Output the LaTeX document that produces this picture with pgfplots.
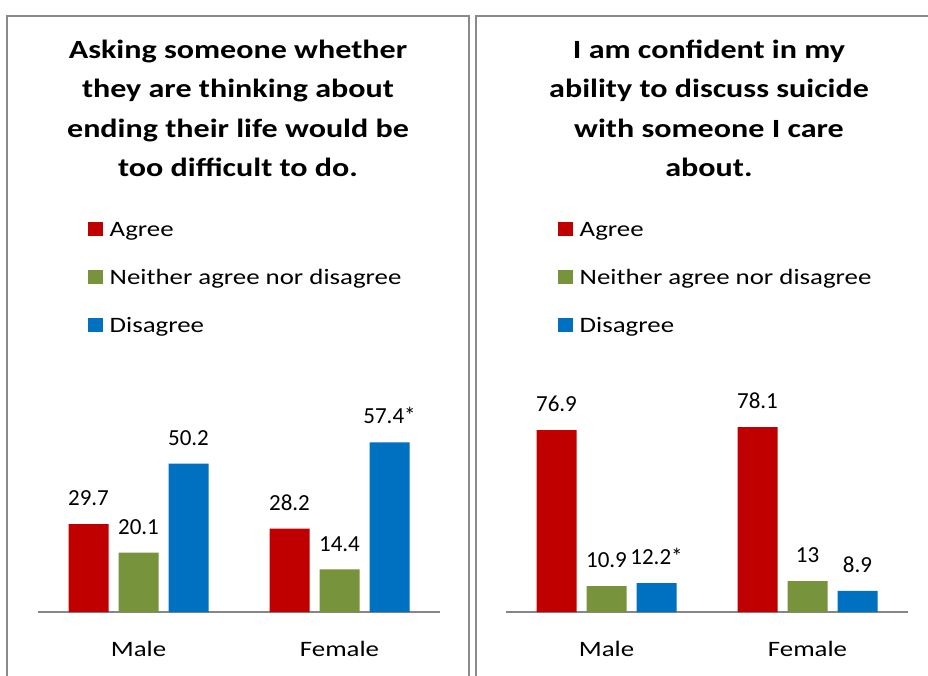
\documentclass[border=0pt]{standalone}
\usepackage{pgfplots}
\pgfplotsset{compat=1.18}
\usepackage{fontspec}
\setmainfont{Carlito}
\newfontfamily\wide{Carlito}[FakeStretch=1.22]
\definecolor{cred}{HTML}{C00000}
\definecolor{cgreen}{HTML}{77933C}
\definecolor{cblue}{HTML}{0070C0}
\definecolor{caxis}{HTML}{868686}
\definecolor{cborder}{HTML}{8A8A8A}
\pgfplotsset{
  panel/.style={
    scale only axis, width=402pt,
    xmin=-0.5, xmax=1.5, ymin=0,
    axis x line=bottom, axis y line=none,
    x axis line style={caxis, line width=1.5pt, -},
    xtick={0,1}, xticklabels={Male,Female},
    major tick length=0pt,
    xticklabel style={font=\wide\fontsize{22}{26}\selectfont, yshift=-26pt},
    ybar=10pt, bar width=40pt,
    nodes near coords, point meta=explicit symbolic,
    every node near coord/.append style={font=\fontsize{23}{27}\selectfont, black, yshift=14.7pt},
    clip=false,
    legend style={anchor=north west, draw=none, fill=none, inner sep=0pt,
      font=\wide\fontsize{22}{26}\selectfont, row sep=27pt, column sep=7pt,
      nodes={inner sep=0pt, text height=16pt, text depth=5pt}},
    legend cell align=left,
    legend image code/.code={\fill[##1] (0pt,-5.5pt) rectangle (14.5pt,8.5pt);},
  }
}
\begin{document}
\begin{tikzpicture}
\useasboundingbox (0pt,0pt) rectangle (928pt,-675pt);
\fill[white] (0pt,0pt) rectangle (928pt,-675pt);
\draw[cborder, line width=2pt] (7pt,-690pt) -- (7pt,-16pt) -- (469pt,-16pt) -- (469pt,-690pt);
\draw[cborder, line width=2pt] (476pt,-690pt) -- (476pt,-16pt) -- (945pt,-16pt);
\node[anchor=north, align=center, inner sep=0pt, font=\wide\bfseries\fontsize{26.3}{39.2}\selectfont] at (238pt,-40pt)
  {Asking someone whether\\they are thinking about\\ending their life would be\\too difficult to do.};
\node[anchor=north, align=center, inner sep=0pt, font=\wide\bfseries\fontsize{26.3}{39.2}\selectfont] at (709pt,-40pt)
  {I am confident in my\\ability to discuss suicide\\with someone I care\\about.};
\begin{axis}[panel, at={(38pt,-612pt)}, anchor=south west, height=207pt, ymax=70,
  legend style={at={(0.1244,1.8937)}}]
\addplot[fill=cred, draw=none] coordinates {(0,29.7) [29.7] (1,28.2) [28.2]};
\addplot[fill=cgreen, draw=none] coordinates {(0,20.1) [20.1] (1,14.4) [14.4]};
\addplot[fill=cblue, draw=none] coordinates {(0,50.2) [50.2] (1,57.4) [57.4*]};
\legend{Agree, Neither agree nor disagree, Disagree}
\end{axis}
\begin{axis}[panel, at={(506pt,-612pt)}, anchor=south west, height=213pt, ymax=90,
  legend style={at={(0.1294,1.8404)}}]
\addplot[fill=cred, draw=none] coordinates {(0,76.9) [76.9] (1,78.1) [78.1]};
\addplot[fill=cgreen, draw=none] coordinates {(0,10.9) [10.9] (1,13) [13]};
\addplot[fill=cblue, draw=none] coordinates {(0,12.2) [12.2*] (1,8.9) [8.9]};
\legend{Agree, Neither agree nor disagree, Disagree}
\end{axis}
\end{tikzpicture}
\end{document}
